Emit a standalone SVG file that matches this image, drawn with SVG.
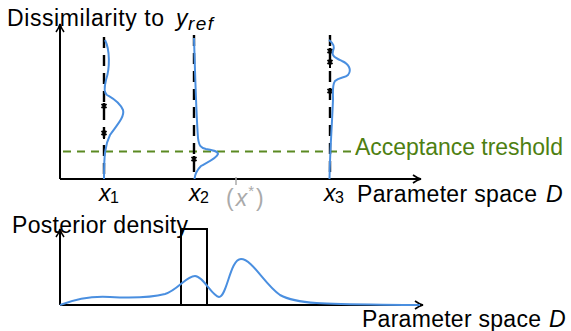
<svg xmlns="http://www.w3.org/2000/svg" width="571" height="331" viewBox="0 0 571 331">
<style>
text{font-family:"Liberation Sans","DejaVu Sans",sans-serif;fill:#000}
.lbl{font-size:23px}
.it{font-style:italic}
.axis{stroke:#000;stroke-width:2;fill:none}
.vd{stroke:#000;stroke-width:2.4;stroke-dasharray:11 7;fill:none}
.blue{stroke:#4a8fe0;stroke-width:2;fill:none}
.green{stroke:#5b8a22;stroke-width:2;stroke-dasharray:8 6;fill:none}
.gtxt{fill:#4e7f12}
.gray{fill:#aaaaaa}
</style>
<defs>
<marker id="arr" viewBox="0 0 10 10" refX="9" refY="5" markerWidth="10" markerHeight="10" markerUnits="userSpaceOnUse" orient="auto">
<path d="M1,1 Q5,4 9,5 Q5,6 1,9" fill="none" stroke="#000" stroke-width="1.6"/>
</marker>
<g id="pt"><path d="M0,-4 V5 M-2.5,-3 L2.5,1 M2.5,-3 L-2.5,1" stroke="#000" stroke-width="2" fill="none"/></g>
</defs>

<g id="top-plot">
  <g id="connectors">
    <path class="axis" d="M60,179 V24" marker-end="url(#arr)"/>
    <path class="axis" d="M60,179 H421" marker-end="url(#arr)"/>
    <path class="axis" d="M60,305 V229" marker-end="url(#arr)"/>
    <path class="axis" d="M60,305 H423" marker-end="url(#arr)"/>
  </g>
  <g id="threshold">
    <path class="green" d="M63,151.5 H354"/>
    <text class="lbl gtxt" x="355" y="155" textLength="208" lengthAdjust="spacing">Acceptance treshold</text>
  </g>
  <g id="x1">
    <path class="vd" d="M104,37 V179"/>
    <use href="#pt" x="104" y="107"/>
    <use href="#pt" x="104" y="134"/>
    <path class="blue" d="M105,40 C110,50 110,68 106,80 C104,88 104,93 107,95 C112,98 119,101 123,110 C125,117 116,126 110,135 C105,145 104,155 104,179"/>
    <text class="lbl it" x="99" y="201">x</text><text x="110" y="203" font-size="16">1</text>
  </g>
  <g id="x2">
    <path class="vd" d="M194,35 V179"/>
    <use href="#pt" x="194" y="160"/>
    <path class="blue" d="M194,38 C195,70 196,110 198,138 C199,146 201,148 206,149 C212,150 218,151 218,154 C217,158 208,162 201,166 C197,170 195,174 194.5,179"/>
    <text class="lbl it" x="189" y="201">x</text><text x="200" y="203" font-size="16">2</text>
  </g>
  <g id="xstar">
    <path d="M236,177 V185" stroke="#aaaaaa" stroke-width="1.5"/>
    <text class="lbl gray" x="226" y="206"><tspan>(</tspan><tspan class="it" dx="2">x</tspan><tspan font-size="15" dx="1" dy="-10">*</tspan><tspan dx="2" dy="10">)</tspan></text>
  </g>
  <g id="x3">
    <path class="vd" d="M330,35 V179"/>
    <use href="#pt" x="330" y="52"/>
    <use href="#pt" x="330" y="63"/>
    <use href="#pt" x="330" y="92"/>
    <path class="blue" d="M329,40 C333,43 335,47 333,51 C331,56 336,58 342,61 C349,64 352,70 348,75 C345,78 339,77 335,81 C332,85 333,92 333,100 C332,125 330,150 329.5,179"/>
    <text class="lbl it" x="324" y="201">x</text><text x="335" y="203" font-size="16">3</text>
  </g>
  <text class="lbl" x="7" y="26" textLength="157" lengthAdjust="spacing">Dissimilarity to</text>
  <text class="lbl it" x="176" y="26">y</text>
  <text class="it" x="188" y="30" font-size="19" textLength="25" lengthAdjust="spacing">ref</text>
  <text class="lbl" x="357" y="202" textLength="180" lengthAdjust="spacing">Parameter space</text>
  <text class="lbl it" x="546" y="202">D</text>
</g>

<g id="bottom-plot">
  <text class="lbl" x="12" y="233" textLength="176" lengthAdjust="spacing">Posterior density</text>
  <rect id="window" x="181" y="229" width="26" height="76" fill="none" stroke="#000" stroke-width="2"/>
  <path class="blue" d="M60,305 C78,298 95,296 110,297 C130,298 150,298 165,294 C178,290 186,276 195,276 C203,276 212,296 219,297 C227,297 230,259 241,259 C252,259 265,285 280,295 C300,306 340,304 420,305"/>
  <text class="lbl" x="362" y="327" textLength="179" lengthAdjust="spacing">Parameter space</text>
  <text class="lbl it" x="549" y="327">D</text>
</g>
</svg>
